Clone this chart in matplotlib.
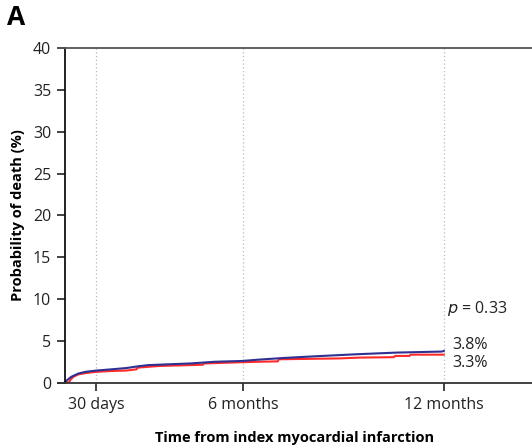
import matplotlib
matplotlib.use("Agg")
import matplotlib.pyplot as plt

# Data (days, cumulative %)
blue_days = [0, 2, 6, 13, 20, 30, 45, 59, 70, 80, 100, 121, 144, 171, 186, 210, 240, 281, 320, 355, 363, 365]
blue_pct = [0, 0.3, 0.7, 1.1, 1.3, 1.45, 1.6, 1.75, 1.95, 2.1, 2.2, 2.3, 2.5, 2.6, 2.75, 2.95, 3.15, 3.4, 3.6, 3.7, 3.72, 3.8]
red_days = [0, 4, 5, 8, 13, 20, 30, 45, 59, 69, 70, 91, 120, 133, 134, 171, 186, 205, 206, 264, 284, 317, 318, 332, 333, 365]
red_pct = [0, 0.05, 0.3, 0.7, 1.0, 1.15, 1.3, 1.4, 1.45, 1.6, 1.8, 2.0, 2.1, 2.15, 2.3, 2.45, 2.5, 2.55, 2.8, 2.9, 3.0, 3.05, 3.2, 3.2, 3.35, 3.35]

tick_pos = [30, 172, 365]
tick_labels = ["30 days", "6 months", "12 months"]
y_ticks = [0, 5, 10, 15, 20, 25, 30, 35, 40]

plt.rcParams['font.family'] = ['Open Sans', 'DejaVu Sans']

fig = plt.figure(figsize=(5.32, 4.48), dpi=100)
ax = fig.add_axes([58 / 532, 1 - 382.7 / 448, 1 - 58 / 532, (382.7 - 48) / 448])

# vertical dotted guides
for t in tick_pos:
    ax.axvline(t, color="#bbbbbb", lw=0.9, ls=(0, (1, 2)), zorder=0)

ax.plot(red_days, red_pct, color="#ff2a2a", lw=1.5)
ax.plot(blue_days, blue_pct, color="#2e3192", lw=1.5)

ax.set_xlim(-6.7, 450)
ax.set_ylim(0, 40)
ax.set_yticks(y_ticks)
ax.set_xticks(tick_pos)
ax.set_xticklabels(tick_labels)

ax.spines['right'].set_visible(False)
ax.spines['left'].set_position(('data', 0))
ax.spines['left'].set_color("#111111")
ax.spines['top'].set_color("#555555")
ax.spines['bottom'].set_color("#333333")
for s in ['left', 'top', 'bottom']:
    ax.spines[s].set_linewidth(1.3)

ax.tick_params(axis='both', direction='out', length=6, width=1.2, labelsize=11.5,
               colors="#222222", pad=4)

ax.set_ylabel("Probability of death (%)", fontsize=10.5, fontweight='bold')
ax.yaxis.set_label_coords(-0.07, 0.5)
ax.set_xlabel("Time from index myocardial infarction", fontsize=10.5, fontweight='bold', labelpad=13)

ax.text(368, 8.9, r"$p$ = 0.33", fontsize=11.5, va='center', ha='left', color="#222222")
ax.text(373, 4.45, "3.8%", fontsize=11.5, va='center', ha='left', color="#222222")
ax.text(373, 2.4, "3.3%", fontsize=11.5, va='center', ha='left', color="#222222")

fig.text(0.013, 0.99, "A", fontsize=19, fontweight='bold', va='top', ha='left')

fig.savefig("out.png", dpi=100)
